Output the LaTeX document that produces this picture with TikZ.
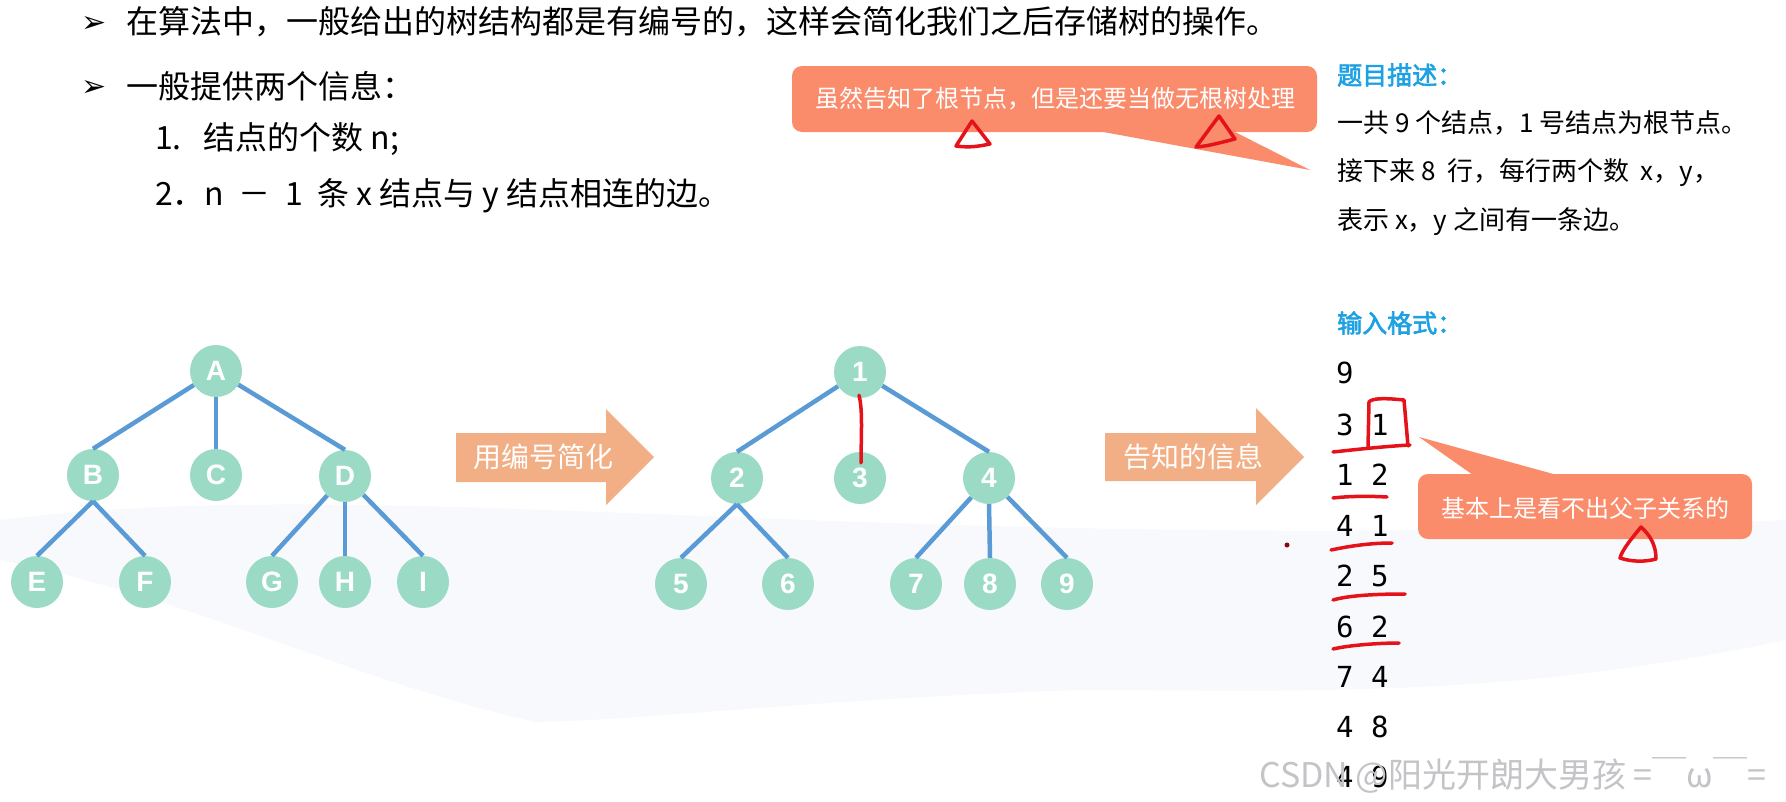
\documentclass[tikz,border=0pt]{standalone}
\usepackage{fontspec}
\newfontfamily\cjk{Noto Sans CJK SC}
\newfontfamily\cjkbf[FakeBold=2.5]{Noto Sans CJK SC}
\newfontfamily\nodefont{Liberation Sans}
\newfontfamily\monofont{DejaVu Sans Mono}
\newfontfamily\symfont{DejaVu Sans}
\usetikzlibrary{calc}
\definecolor{mint}{HTML}{9BDBC6}
\definecolor{edgeblue}{HTML}{5B9BD5}
\definecolor{arrowor}{HTML}{F2AE84}
\definecolor{coral}{HTML}{FA8C6C}
\definecolor{headblue}{HTML}{1DA1E2}
\definecolor{penred}{HTML}{E5121A}
\definecolor{bgsw}{HTML}{F6F7FB}
\definecolor{wmgray}{HTML}{C4C4C8}
\begin{document}
\begin{tikzpicture}[x=1pt,y=-1pt,
  tn/.style={circle, fill=mint, minimum size=52pt, inner sep=0pt, text=white,
    font=\nodefont\bfseries\fontsize{28}{28}\selectfont},
  tedge/.style={draw=edgeblue, line width=4.5pt},
  redpen/.style={draw=penred, line width=3.5pt, line cap=round, line join=round},
  bodytext/.style={anchor=west, inner sep=0pt, font=\cjk\fontsize{32}{32}\selectfont},
  righttext/.style={anchor=west, inner sep=0pt, font=\cjk\fontsize{26}{26}\selectfont},
  headtext/.style={anchor=west, inner sep=0pt, text=headblue, font=\cjkbf\fontsize{25}{25}\selectfont},
  numtext/.style={anchor=west, inner sep=0pt, font=\monofont\fontsize{29}{29}\selectfont},
  arrtext/.style={inner sep=0pt, text=white, font=\cjk\fontsize{28}{28}\selectfont},
  calltext/.style={inner sep=0pt, text=white, font=\cjk\fontsize{24}{24}\selectfont},
  bullet/.style={inner sep=0pt, font=\symfont\fontsize{30}{30}\selectfont}]
\useasboundingbox (0,0) rectangle (1786,801);
\fill[white] (0,0) rectangle (1786,801);
% faint background swoosh
\fill[bgsw, opacity=0.7] (0,520) .. controls (400,470) and (900,560) .. (1786,520)
  -- (1786,640) .. controls (1500,700) and (1300,690) .. (1078,690)
  .. controls (800,700) and (650,720) .. (535,722)
  .. controls (350,680) and (200,600) .. (0,560) -- cycle;

% top text
\node[bullet] (b1) at (94,24) {➢};
\node[bodytext] (t1) at (126,22) {在算法中，一般给出的树结构都是有编号的，这样会简化我们之后存储树的操作。};
\node[bullet] (b2) at (94,88) {➢};
\node[bodytext] (t2) at (126,86) {一般提供两个信息：};
\node[bodytext] (t3) at (155,139) {1.\ \ \ 结点的个数 n;};
\node[bodytext] (t4) at (155,196) {2．n\ \ －\ \ 1\ \ 条 x 结点与 y 结点相连的边。};

% callout 1
\fill[coral, rounded corners=10pt] (792,66) rectangle (1317,132);
\fill[coral] (1098,131) -- (1233,131) -- (1310,170) -- cycle;
\node[calltext] (c1) at (1055,99) {虽然告知了根节点，但是还要当做无根树处理};

% right text
\node[headtext] (h1) at (1337,75) {题目描述：};
\node[righttext] (r1) at (1337,123) {一共 9 个结点，1 号结点为根节点。};
\node[righttext] (r2) at (1337,173) {接下来 8\ \ 行，每行两个数\ \ x，y，};
\node[righttext] (r3) at (1337,222) {表示 x，y 之间有一条边。};
\node[headtext] (h2) at (1337,323) {输入格式：};
\node[numtext] (d0) at (1336,373) {9};
\node[numtext] (d1) at (1336,425) {3 1};
\node[numtext] (d2) at (1336,475) {1 2};
\node[numtext] (d3) at (1336,526) {4 1};
\node[numtext] (d4) at (1336,576) {2 5};
\node[numtext] (d5) at (1336,627) {6 2};
\node[numtext] (d6) at (1336,677) {7 4};
\node[numtext] (d7) at (1336,727) {4 8};
\node[numtext] (d8) at (1336,777) {4 9};

% callout 2
\fill[coral, rounded corners=10pt] (1418,474) rectangle (1752,539);
\fill[coral] (1473,475) -- (1557,475) -- (1419,437) -- cycle;
\node[calltext] (c2) at (1585,508) {基本上是看不出父子关系的};

% tree 1
\node[tn] (A) at (216,371) {A};
\node[tn] (B) at (93,475) {B};
\node[tn] (C) at (216,475) {C};
\node[tn] (D) at (345,476) {D};
\node[tn] (E) at (37,582) {E};
\node[tn] (F) at (145,582) {F};
\node[tn] (G) at (272,582) {G};
\node[tn] (H) at (345,582) {H};
\node[tn] (I) at (423,582) {I};
\draw[tedge] (A) -- (B.north);
\draw[tedge] (A) -- (C);
\draw[tedge] (A) -- (D.north);
\draw[tedge] (B.south) -- (E.north);
\draw[tedge] (B.south) -- (F.north);
\draw[tedge] (D) -- (G.north);
\draw[tedge] (D) -- (H);
\draw[tedge] (D) -- (I.north);

% arrow 1
\fill[arrowor] (456,433) -- (606,433) -- (606,409) -- (654,457) -- (606,505) -- (606,482) -- (456,482) -- cycle;
\node[arrtext] (a1) at (543,457) {用编号简化};

% tree 2
\node[tn] (n1) at (860,372) {1};
\node[tn] (n2) at (737,478) {2};
\node[tn] (n3) at (860,478) {3};
\node[tn] (n4) at (989,478) {4};
\node[tn] (n5) at (681,584) {5};
\node[tn] (n6) at (788,584) {6};
\node[tn] (n7) at (916,584) {7};
\node[tn] (n8) at (990,584) {8};
\node[tn] (n9) at (1067,584) {9};
\draw[tedge] (n1) -- (n2.north);
\draw[tedge] (n1) -- (n4.north);
\draw[tedge] (n2.south) -- (n5.north);
\draw[tedge] (n2.south) -- (n6.north);
\draw[tedge] (n4) -- (n7.north);
\draw[tedge] (n4.south) -- (n8.north);
\draw[tedge] (n4) -- (n9.north);
\draw[redpen] ($(n1.south)+(-1,-3)$) .. controls +(4,15) and +(0,-25) .. ($(n3.north)+(1,11)$);

% arrow 2
\fill[arrowor] (1105,433) -- (1256,433) -- (1256,408) -- (1304,457) -- (1256,505) -- (1256,481) -- (1105,481) -- cycle;
\node[arrtext] (a2) at (1193,457) {告知的信息};

% red hand marks
\draw[redpen] (972,121) -- (956,146) .. controls (970,148) and (980,146) .. (990,144) -- cycle;
\draw[redpen] (1219,116) -- (1196,147) .. controls (1210,146) and (1222,142) .. (1235,139) -- cycle;
\draw[redpen] (1641,527) .. controls (1632,538) and (1622,550) .. (1620,558)
  .. controls (1632,562) and (1645,562) .. (1656,559) .. controls (1656,545) and (1650,535) .. cycle;
\draw[redpen] (1368,447) -- (1369,402) .. controls (1372,398) and (1385,398) .. (1404,400) -- (1408,446);
\draw[redpen] (1333,452) .. controls (1360,449) and (1390,446) .. (1410,445);
\draw[redpen] (1333,498) .. controls (1350,496) and (1370,496) .. (1387,497);
\draw[redpen] (1331,550) .. controls (1350,546) and (1370,543) .. (1392,543);
\draw[redpen] (1333,600) .. controls (1350,595) and (1380,594) .. (1405,594);
\draw[redpen] (1333,649) .. controls (1350,645) and (1380,643) .. (1399,643);
\fill[penred!60!black] (1287,545) circle (2.5);

% watermark
\node[anchor=west, inner sep=0pt, text=wmgray, font=\cjk\fontsize{34}{34}\selectfont] (wm) at (1259,775) {CSDN @阳光开朗大男孩 =￣ω￣=};
\end{tikzpicture}
\end{document}
